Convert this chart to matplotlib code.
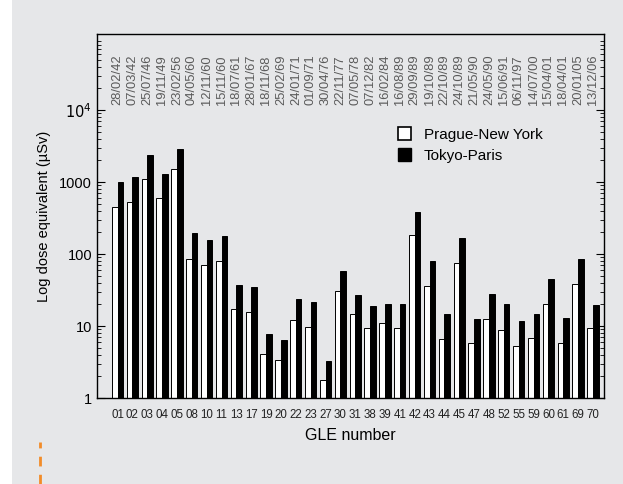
import matplotlib
matplotlib.use("Agg")
import matplotlib.pyplot as plt
import matplotlib.ticker as mticker
from matplotlib.patches import Patch, Rectangle
from matplotlib.lines import Line2D
import numpy as np

plt.rcParams['font.family'] = ['Liberation Sans', 'DejaVu Sans']

# GLE events (number and date) and estimated doses / uSv
gle = ['01', '02', '03', '04', '05', '08', '10', '11', '13', '17', '19',
       '20', '22', '23', '27', '30', '31', '38', '39', '41', '42', '43',
       '44', '45', '47', '48', '52', '55', '59', '60', '61', '69', '70']
dates = ['28/02/42', '07/03/42', '25/07/46', '19/11/49', '23/02/56',
         '04/05/60', '12/11/60', '15/11/60', '18/07/61', '28/01/67',
         '18/11/68', '25/02/69', '24/01/71', '01/09/71', '30/04/76',
         '22/11/77', '07/05/78', '07/12/82', '16/02/84', '16/08/89',
         '29/09/89', '19/10/89', '22/10/89', '24/10/89', '21/05/90',
         '24/05/90', '15/06/91', '06/11/97', '14/07/00', '15/04/01',
         '18/04/01', '20/01/05', '13/12/06']
prague_ny = [450, 530, 1090, 610, 1500, 86, 70, 81, 17.4, 15.6, 4.1,
             3.4, 12, 9.7, 1.76, 30.6, 14.8, 9.4, 11, 9.5, 182, 36,
             6.5, 76, 5.8, 12.4, 8.7, 5.3, 6.9, 20.4, 5.8, 38.7, 9.4]
tokyo_paris = [1000, 1170, 2370, 1300, 2900, 195, 155, 178, 36.7, 34.8, 7.8,
               6.3, 24, 21.5, 3.3, 58, 26.7, 19, 20, 20.4, 383, 80,
               14.8, 169, 12.4, 27.5, 20, 11.6, 14.8, 44.5, 13.1, 86, 19.8]

bg = '#e6e7e9'
fig = plt.figure(figsize=(6.23, 4.84), dpi=100, facecolor=bg)
# white strip on the left edge and orange dashed marker
fig.add_artist(Rectangle((0, 0), 12/623, 1, transform=fig.transFigure,
                         facecolor='white', edgecolor='none'))
fig.add_artist(Line2D([40/623, 40/623], [0, 42/484], transform=fig.transFigure,
                      color='#f28c28', lw=2, linestyle=(0, (3.5, 3))))

ax = fig.add_axes([97/623, 1 - 398/484, 507/623, 364/484])
ax.set_facecolor(bg)

x = np.arange(len(gle))
w = 0.38
ax.bar(x - w/2, prague_ny, w, bottom=0.001, facecolor='white',
       edgecolor='black', linewidth=0.7, label='Prague-New York')
ax.bar(x + w/2, tokyo_paris, w, bottom=0.001, facecolor='black',
       edgecolor='black', linewidth=0.7, label='Tokyo-Paris')

ax.set_yscale('log')
ax.set_ylim(1, 1.14e5)
ax.set_xlim(-1.38, len(gle) - 0.26)

ax.set_yticks([1, 10, 100, 1000, 10000])
ax.yaxis.set_major_formatter(mticker.FuncFormatter(
    lambda v, p: '$10^4$' if v >= 1e4 else '%d' % v))
ax.yaxis.set_minor_locator(mticker.LogLocator(subs=np.arange(2, 10)))
ax.yaxis.set_minor_formatter(mticker.NullFormatter())
ax.tick_params(axis='y', which='both', direction='in', right=True,
               labelsize=10.5)
ax.tick_params(axis='y', which='major', length=6)
ax.tick_params(axis='y', which='minor', length=3)

ax.set_xticks(x)
ax.set_xticklabels(gle, fontsize=8.3, color='#222222')
ax.tick_params(axis='x', length=0, pad=8)

for xi, d in zip(x, dates):
    ax.text(xi, 0.805, d, transform=ax.get_xaxis_transform(), rotation=90,
            ha='center', va='bottom', fontsize=9.3, color='#5a5a5a')

ax.set_xlabel('GLE number', fontsize=11.5, labelpad=5)
ax.set_ylabel('Log dose equivalent (\u00b5Sv)', fontsize=10.5, labelpad=6)

handles = [Patch(facecolor='white', edgecolor='black', linewidth=1.2),
           Patch(facecolor='black', edgecolor='black')]
ax.legend(handles, ['Prague-New York', 'Tokyo-Paris'], loc='upper left',
          bbox_to_anchor=(0.578, 0.765), frameon=False, fontsize=11,
          handlelength=0.9, handleheight=0.9, handletextpad=0.8,
          borderpad=0, labelspacing=0.4)

for s in ax.spines.values():
    s.set_linewidth(1.0)

fig.savefig('out.png', dpi=100, facecolor=bg)
